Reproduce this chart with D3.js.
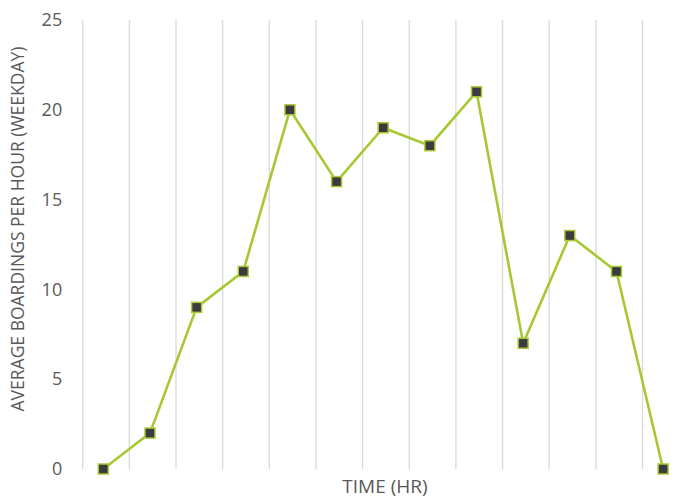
<!DOCTYPE html>
<html>
<head>
<meta charset="utf-8">
<script src="https://cdn.jsdelivr.net/npm/d3@7"></script>
<style>
  body { margin: 0; background: #fff; }
  text { font-family: "Open Sans", sans-serif; fill: #595959; }
</style>
</head>
<body>
<script>
// hours of the day and weekday boardings
var hours = [6, 7, 8, 9, 10, 11, 12, 13, 14, 15, 16, 17, 18];
var boardings = [0, 2, 9, 11, 20, 16, 19, 18, 21, 7, 13, 11, 0];
var yTicks = [0, 5, 10, 15, 20, 25];

var width = 686, height = 498;
var margin = {top: 20, left: 82.7, bottom: 29};

var svg = d3.select("body").append("svg")
    .attr("width", width)
    .attr("height", height);

// x is a value axis, gridlines sit a bit left of each hour
var x = d3.scaleLinear()
    .domain([5.558, 5.558 + 13])
    .range([margin.left, margin.left + 46.65 * 13]);

var y = d3.scaleLinear()
    .domain([0, 25])
    .range([height - margin.bottom, margin.top]);

// vertical gridlines
svg.append("g")
    .selectAll("line")
    .data(d3.range(5.558, 5.558 + 13.5, 1))
    .enter()
    .append("line")
    .attr("x1", function(d) { return x(d); })
    .attr("x2", function(d) { return x(d); })
    .attr("y1", y(25))
    .attr("y2", y(0))
    .attr("stroke", "#d9d9d9")
    .attr("stroke-width", 1.3);

// y axis labels
var yAxis = svg.append("g")
    .attr("transform", "translate(" + (margin.left - 20.5) + ",0)")
    .call(d3.axisLeft(y).tickValues(yTicks).tickSize(0).tickPadding(0));
yAxis.select(".domain").remove();
yAxis.selectAll("text")
    .attr("font-size", 18)
    .style("font-family", "'Open Sans', sans-serif")
    .attr("fill", "#595959");

// axis titles
svg.append("text")
    .attr("transform", "translate(24,229) rotate(-90)")
    .attr("text-anchor", "middle")
    .attr("font-size", 17.5)
    .text("AVERAGE BOARDINGS PER HOUR (WEEKDAY)");

svg.append("text")
    .attr("x", 385)
    .attr("y", 493)
    .attr("text-anchor", "middle")
    .attr("font-size", 19)
    .text("TIME (HR)");

// line
var line = d3.line()
    .x(function(d, i) { return x(hours[i]); })
    .y(function(d) { return y(d); });

svg.append("path")
    .datum(boardings)
    .attr("d", line)
    .attr("fill", "none")
    .attr("stroke", "#a6c832")
    .attr("stroke-width", 2.6)
    .attr("stroke-linejoin", "round");

// square markers
svg.append("g")
    .selectAll("rect")
    .data(boardings)
    .enter()
    .append("rect")
    .attr("x", function(d, i) { return x(hours[i]) - 5; })
    .attr("y", function(d) { return y(d) - 5; })
    .attr("width", 10)
    .attr("height", 10)
    .attr("fill", "#3b3a40")
    .attr("stroke", "#a9c934")
    .attr("stroke-width", 1.5);
</script>
</body>
</html>
